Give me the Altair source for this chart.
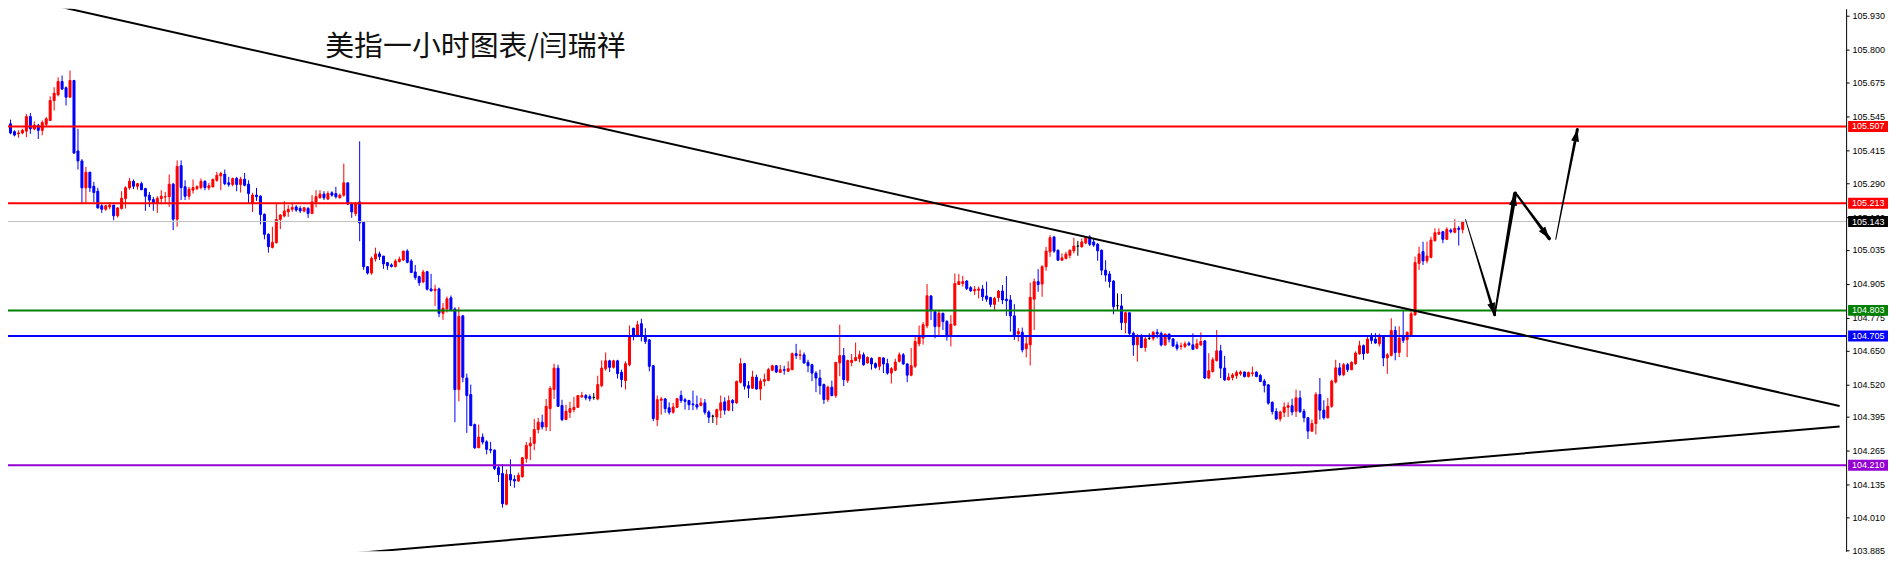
import math
import altair as alt
import pandas as pd

# ---------------- data ----------------
open_ = [105.515,105.517,105.487,105.479,105.482,105.489,105.545,105.497,105.511,105.492,
105.515,105.530,105.606,105.628,105.679,105.655,105.619,105.683,105.413,105.375,
105.272,105.332,105.278,105.259,105.203,105.190,105.199,105.206,105.165,105.193,
105.231,105.272,105.297,105.278,105.288,105.269,105.244,105.227,105.214,105.231,
105.237,105.238,105.286,105.152,105.357,105.276,105.240,105.263,105.269,105.273,
105.297,105.272,105.276,105.301,105.318,105.324,105.291,105.285,105.308,105.285,
105.305,105.286,105.216,105.244,105.240,105.171,105.094,105.044,105.062,105.151,
105.164,105.180,105.190,105.199,105.193,105.183,105.193,105.174,105.218,105.234,
105.248,105.229,105.253,105.250,105.234,105.244,105.291,105.212,105.174,105.218,
105.140,104.970,104.946,105.000,105.019,105.011,104.986,104.977,104.971,104.990,
104.996,105.030,104.992,104.950,104.932,104.912,104.951,104.885,104.879,104.885,
104.792,104.809,104.851,104.808,104.500,104.782,104.544,104.481,104.366,104.277,
104.318,104.300,104.271,104.268,104.201,104.179,104.061,104.175,104.156,104.150,
104.166,104.236,104.284,104.294,104.347,104.375,104.357,104.427,104.500,104.582,
104.439,104.385,104.413,104.423,104.432,104.472,104.477,104.473,104.470,104.464,
104.515,104.580,104.610,104.585,104.610,104.566,104.534,104.595,104.735,104.706,
104.752,104.706,104.690,104.591,104.385,104.459,104.464,104.430,104.413,104.432,
104.477,104.461,104.458,104.445,104.442,104.439,104.449,104.414,104.398,104.395,
104.421,104.453,104.421,104.458,104.449,104.528,104.599,104.515,104.505,104.547,
104.502,104.532,104.535,104.574,104.591,104.566,104.576,104.570,104.576,104.637,
104.631,104.633,104.604,104.595,104.563,104.544,104.519,104.462,104.509,104.477,
104.602,104.630,104.535,104.604,104.611,104.618,104.633,104.602,104.619,104.599,
104.589,104.621,104.599,104.563,104.574,104.608,104.633,104.598,104.555,104.589,
104.675,104.697,104.744,104.858,104.798,104.741,104.792,104.760,104.703,104.747,
104.902,104.906,104.915,104.890,104.878,104.880,104.885,104.858,104.852,104.826,
104.852,104.877,104.846,104.843,104.782,104.713,104.719,104.656,104.671,104.846,
104.913,104.904,104.970,105.027,105.084,105.033,104.995,105.002,105.014,105.031,
105.049,105.046,105.061,105.084,105.065,105.056,105.033,104.957,104.942,104.915,
104.821,104.820,104.756,104.794,104.715,104.671,104.705,104.661,104.696,104.696,
104.719,104.715,104.671,104.712,104.694,104.671,104.665,104.665,104.677,104.671,
104.658,104.671,104.686,104.544,104.569,104.611,104.648,104.582,104.537,104.546,
104.553,104.560,104.567,104.550,104.561,104.567,104.554,104.533,104.518,104.451,
104.416,104.388,104.413,104.432,104.438,104.417,104.468,104.417,104.392,104.341,
104.370,104.481,104.421,104.392,104.436,104.529,104.583,104.557,104.595,104.576,
104.599,104.637,104.668,104.640,104.701,104.693,104.675,104.703,104.621,104.631,
104.726,104.642,104.701,104.691,104.710,104.786,104.983,105.028,104.993,105.006,
105.070,105.095,105.104,105.075,105.110,105.102,105.117,105.113]

high_ = [105.543,105.533,105.492,105.492,105.498,105.555,105.558,105.526,105.517,105.530,
105.543,105.622,105.657,105.695,105.702,105.660,105.721,105.685,105.498,105.382,
105.352,105.332,105.295,105.272,105.209,105.206,105.212,105.206,105.199,105.259,
105.278,105.310,105.304,105.291,105.295,105.272,105.256,105.237,105.240,105.263,
105.256,105.323,105.291,105.377,105.377,105.301,105.276,105.304,105.282,105.308,
105.301,105.291,105.308,105.333,105.333,105.342,105.314,105.311,105.314,105.314,
105.329,105.301,105.253,105.272,105.244,105.174,105.098,105.123,105.215,105.171,
105.221,105.206,105.210,105.206,105.202,105.199,105.199,105.244,105.263,105.263,
105.259,105.259,105.259,105.276,105.250,105.365,105.291,105.215,105.218,105.450,
105.142,104.972,105.009,105.043,105.028,105.011,104.986,104.983,104.999,105.009,
105.030,105.037,104.999,104.977,104.936,104.958,104.954,104.943,104.901,104.890,
104.831,104.856,104.860,104.815,104.815,104.786,104.561,104.519,104.370,104.366,
104.332,104.306,104.300,104.271,104.207,104.214,104.194,104.233,104.172,104.182,
104.242,104.299,104.318,104.388,104.392,104.404,104.464,104.513,104.599,104.595,
104.461,104.442,104.453,104.472,104.477,104.491,104.483,104.481,104.487,104.553,
104.612,104.642,104.614,104.614,104.614,104.576,104.608,104.745,104.735,104.763,
104.771,104.735,104.693,104.594,104.477,104.472,104.468,104.451,104.449,104.468,
104.496,104.468,104.461,104.496,104.477,104.468,104.464,104.421,104.404,104.427,
104.477,104.470,104.477,104.464,104.535,104.620,104.602,104.532,104.572,104.557,
104.542,104.561,104.583,104.595,104.594,104.594,104.591,104.608,104.642,104.675,
104.652,104.642,104.614,104.599,104.570,104.576,104.523,104.515,104.534,104.604,
104.748,104.659,104.614,104.636,104.680,104.649,104.642,104.627,104.623,104.604,
104.623,104.623,104.618,104.586,104.618,104.642,104.640,104.600,104.659,104.703,
104.745,104.758,104.904,104.862,104.805,104.805,104.794,104.766,104.785,104.944,
104.942,104.935,104.919,104.896,104.896,104.894,104.900,104.913,104.855,104.855,
104.881,104.900,104.934,104.862,104.827,104.735,104.737,104.703,104.909,104.925,
104.961,104.976,105.046,105.091,105.088,105.036,105.021,105.027,105.036,105.081,
105.069,105.078,105.087,105.091,105.078,105.061,105.036,104.995,104.953,104.919,
104.868,104.866,104.798,104.794,104.722,104.713,104.713,104.703,104.715,104.724,
104.732,104.722,104.715,104.715,104.696,104.684,104.680,104.684,104.684,104.715,
104.694,104.719,104.690,104.639,104.623,104.728,104.671,104.629,104.563,104.563,
104.573,104.573,104.569,104.569,104.588,104.569,104.560,104.541,104.521,104.455,
104.429,104.419,104.451,104.451,104.465,104.500,104.496,104.426,104.395,104.385,
104.490,104.544,104.459,104.468,104.538,104.614,104.602,104.602,104.602,104.608,
104.646,104.687,104.672,104.706,104.716,104.716,104.714,104.706,104.640,104.773,
104.742,104.742,104.801,104.722,104.803,105.009,105.047,105.066,105.066,105.085,
105.117,105.117,105.107,105.121,105.117,105.152,105.126,105.146]

low_ = [105.511,105.477,105.469,105.464,105.477,105.466,105.479,105.492,105.459,105.473,
105.508,105.527,105.568,105.622,105.647,105.587,105.617,105.403,105.342,105.212,
105.212,105.256,105.218,105.193,105.176,105.184,105.190,105.148,105.158,105.189,
105.193,105.265,105.267,105.265,105.263,105.184,105.199,105.184,105.176,105.209,
105.214,105.199,105.110,105.123,105.225,105.225,105.227,105.250,105.263,105.266,
105.263,105.263,105.273,105.295,105.263,105.282,105.276,105.278,105.259,105.254,
105.278,105.210,105.180,105.222,105.132,105.075,105.024,105.040,105.059,105.114,
105.159,105.161,105.180,105.180,105.176,105.178,105.157,105.171,105.197,105.231,
105.225,105.225,105.238,105.231,105.231,105.238,105.206,105.157,105.164,105.068,
104.958,104.940,104.939,104.990,104.996,104.962,104.958,104.967,104.967,104.986,
104.992,104.983,104.945,104.920,104.897,104.907,104.879,104.875,104.820,104.777,
104.767,104.795,104.799,104.375,104.455,104.528,104.334,104.360,104.273,104.277,
104.290,104.252,104.256,104.192,104.146,104.048,104.057,104.131,104.124,104.146,
104.163,104.220,104.230,104.268,104.332,104.347,104.341,104.341,104.464,104.434,
104.379,104.385,104.391,104.413,104.430,104.468,104.459,104.455,104.461,104.459,
104.509,104.572,104.567,104.580,104.542,104.509,104.500,104.589,104.688,104.703,
104.684,104.674,104.570,104.379,104.360,104.404,104.411,104.404,104.408,104.430,
104.449,104.423,104.421,104.421,104.423,104.436,104.404,104.372,104.372,104.364,
104.391,104.404,104.417,104.417,104.445,104.523,104.500,104.468,104.502,104.500,
104.459,104.513,104.532,104.570,104.563,104.563,104.557,104.567,104.574,104.617,
104.614,104.599,104.566,104.532,104.490,104.481,104.445,104.453,104.474,104.468,
104.551,104.513,104.525,104.589,104.608,104.604,104.591,104.599,104.576,104.580,
104.574,104.563,104.557,104.523,104.570,104.604,104.595,104.528,104.551,104.583,
104.665,104.672,104.735,104.766,104.696,104.709,104.728,104.687,104.665,104.743,
104.900,104.894,104.881,104.874,104.862,104.849,104.839,104.836,104.815,104.805,
104.836,104.827,104.782,104.722,104.690,104.684,104.642,104.623,104.592,104.728,
104.874,104.855,104.955,105.008,105.023,104.993,104.993,104.998,105.002,105.021,
105.012,105.044,105.056,105.049,105.046,104.993,104.938,104.913,104.890,104.788,
104.805,104.728,104.715,104.709,104.629,104.607,104.658,104.645,104.690,104.687,
104.696,104.665,104.667,104.680,104.662,104.649,104.652,104.658,104.667,104.652,
104.654,104.667,104.541,104.540,104.565,104.607,104.544,104.533,104.535,104.535,
104.541,104.553,104.546,104.546,104.550,104.547,104.528,104.489,104.442,104.404,
104.385,104.378,104.394,104.395,104.401,104.395,104.411,104.375,104.311,104.337,
104.328,104.385,104.385,104.389,104.430,104.523,104.551,104.551,104.567,104.574,
104.595,104.633,104.614,104.637,104.675,104.675,104.665,104.589,104.560,104.627,
104.612,104.624,104.678,104.624,104.703,104.782,104.958,104.977,104.983,105.002,
105.066,105.091,105.060,105.072,105.098,105.098,105.051,105.098]

close_ = [105.524,105.482,105.474,105.482,105.492,105.545,105.498,105.512,105.492,105.522,
105.536,105.606,105.634,105.679,105.650,105.619,105.683,105.405,105.375,105.272,
105.332,105.272,105.254,105.195,105.190,105.203,105.206,105.165,105.195,105.232,
105.272,105.297,105.278,105.288,105.265,105.240,105.225,105.214,105.232,105.240,
105.238,105.286,105.152,105.354,105.273,105.240,105.267,105.273,105.276,105.297,
105.273,105.280,105.304,105.320,105.327,105.288,105.285,105.308,105.285,105.305,
105.282,105.250,105.244,105.238,105.170,105.094,105.047,105.063,105.151,105.168,
105.183,105.190,105.197,105.187,105.184,105.196,105.174,105.218,105.238,105.248,
105.234,105.250,105.244,105.238,105.244,105.291,105.210,105.180,105.212,105.138,
104.970,104.946,105.002,105.019,105.009,104.981,104.974,104.971,104.992,104.999,
105.030,104.987,104.948,104.929,104.909,104.950,104.884,104.878,104.884,104.792,
104.811,104.847,104.805,104.500,104.780,104.547,104.477,104.362,104.277,104.318,
104.299,104.271,104.268,104.198,104.174,104.063,104.175,104.154,104.150,104.172,
104.239,104.286,104.294,104.347,104.375,104.357,104.436,104.504,104.582,104.436,
104.385,104.417,104.427,104.432,104.477,104.477,104.468,104.465,104.470,104.519,
104.582,104.610,104.585,104.610,104.561,104.538,104.599,104.706,104.706,104.748,
104.706,104.684,104.589,104.389,104.461,104.464,104.427,104.413,104.433,104.465,
104.458,104.455,104.442,104.442,104.433,104.449,104.413,104.394,104.398,104.423,
104.449,104.421,104.458,104.449,104.531,104.599,104.513,104.505,104.548,104.502,
104.532,104.538,104.576,104.591,104.567,104.576,104.574,104.580,104.637,104.630,
104.633,104.602,104.591,104.563,104.544,104.515,104.462,104.509,104.477,104.604,
104.630,104.538,104.611,104.612,104.623,104.633,104.595,104.623,104.598,104.585,
104.623,104.598,104.563,104.580,104.605,104.633,104.598,104.555,104.591,104.684,
104.701,104.748,104.859,104.802,104.741,104.792,104.760,104.703,104.750,104.906,
104.913,104.913,104.887,104.878,104.883,104.885,104.855,104.846,104.826,104.849,
104.877,104.843,104.840,104.782,104.709,104.722,104.652,104.675,104.853,104.913,
104.902,104.970,105.030,105.081,105.030,104.995,105.004,105.018,105.033,105.049,
105.049,105.065,105.082,105.056,105.053,105.031,104.957,104.938,104.913,104.817,
104.821,104.756,104.794,104.715,104.671,104.700,104.661,104.694,104.696,104.719,
104.713,104.671,104.712,104.693,104.667,104.658,104.667,104.675,104.671,104.654,
104.675,104.684,104.544,104.572,104.614,104.648,104.582,104.537,104.547,104.556,
104.565,104.567,104.550,104.565,104.564,104.550,104.531,104.516,104.448,104.416,
104.387,104.414,104.433,104.438,104.414,104.468,104.415,104.392,104.341,104.370,
104.481,104.421,104.392,104.436,104.532,104.583,104.557,104.595,104.576,104.604,
104.640,104.668,104.637,104.693,104.688,104.678,104.703,104.621,104.633,104.726,
104.642,104.697,104.688,104.719,104.790,104.986,105.019,104.992,105.011,105.072,
105.100,105.102,105.075,105.113,105.104,105.117,105.113,105.142]

level_price = [105.507, 105.213, 105.143, 104.803, 104.705, 104.210]
level_color = ["#ff0000", "#ff0000", "#c0c0c0", "#008000", "#0000ff", "#9400d3"]
level_width = [2, 2, 1, 2, 2, 2]
label_bg = ["#ff0000", "#ff0000", "#000000", "#008000", "#0000ff", "#9400d3"]

tick_values = [105.930, 105.800, 105.675, 105.545, 105.415, 105.290, 105.160, 105.035,
               104.905, 104.775, 104.650, 104.520, 104.395, 104.265, 104.135, 104.010, 103.885]

trend_id = ["down", "down", "up", "up"]
trend_i = [0, 462, 0, 462]
trend_p = [106.011, 104.437, 103.760, 104.359]

arrow_seg = [1, 1, 2, 2, 3, 3, 4, 4]
arrow_i = [367.7, 375.05, 375.05, 380.2, 380.45, 388.8, 390.45, 395.9]
arrow_p = [105.151, 104.786, 104.786, 105.250, 105.250, 105.078, 105.075, 105.495]
arrow_w = [0.8, 3.0, 1.8, 4.0, 2.0, 3.5, 1.0, 3.0]

title_text = "美指一小时图表/闫瑞祥"

# ---------------- layout ----------------
W, H = 1843, 544
X_DOM = [1.625, 462.375]
Y_DOM = [103.881, 105.9575]
PX_I = W / (X_DOM[1] - X_DOM[0])
PX_P = H / (Y_DOM[1] - Y_DOM[0])

n = len(open_)
df = pd.DataFrame({"i": list(range(n)), "open": open_, "high": high_,
                   "low": low_, "close": close_})
df["dir"] = ["up" if c > o else ("down" if c < o else "flat")
             for o, c in zip(open_, close_)]

lv = pd.DataFrame({"price": level_price, "col": level_color, "w": level_width,
                   "bg": label_bg, "txt": [f"{p:.3f}" for p in level_price]})
tr = pd.DataFrame({"id": trend_id, "i": trend_i, "p": trend_p})
ar = pd.DataFrame({"seg": arrow_seg, "i": arrow_i, "p": arrow_p, "w": arrow_w,
                   "ord": list(range(len(arrow_seg)))})
heads = []
for s in sorted(set(arrow_seg)):
    pts = ar[ar.seg == s].sort_values("ord")
    (i0, p0), (i1, p1) = pts[["i", "p"]].values[0], pts[["i", "p"]].values[-1]
    dx = (i1 - i0) * PX_I
    dy = -(p1 - p0) * PX_P
    ang = math.degrees(math.atan2(dx, -dy)) % 360
    heads.append({"i": i1, "p": p1, "ang": ang})
hd = pd.DataFrame(heads)

xs = alt.Scale(domain=X_DOM, nice=False, zero=False)
ys = alt.Scale(domain=Y_DOM, nice=False, zero=False)
cscale = alt.Scale(domain=["up", "down", "flat"], range=["#ff0000", "#0000ff", "#000000"])

yaxis = alt.Axis(orient="right", values=tick_values, format=".3f",
                 labelFont="Liberation Sans", labelFontSize=9, labelColor="#000000",
                 tickColor="#000000", tickSize=3, tickWidth=1,
                 domainColor="#000000", domainWidth=1, labelPadding=3,
                 grid=False, labelOverlap=False, labelFlush=False, labelBound=False)


def Y(field):
    return alt.Y(field, scale=ys, axis=yaxis, title=None)


X = alt.X("i:Q", scale=xs, axis=None, title=None)

wicks = alt.Chart(df).mark_rule(strokeWidth=1, clip=True).encode(
    x=X,
    y=Y("low:Q"),
    y2="high:Q",
    color=alt.Color("dir:N", scale=cscale, legend=None),
)
bodies = alt.Chart(df).mark_bar(size=2, strokeWidth=1, clip=True, opacity=1).encode(
    x=X,
    y=Y("open:Q"),
    y2="close:Q",
    fill=alt.Fill("dir:N", scale=cscale, legend=None),
    stroke=alt.Stroke("dir:N", scale=cscale, legend=None),
)
levels = alt.Chart(lv).mark_rule(clip=True).encode(
    y=Y("price:Q"),
    color=alt.Color("col:N", scale=None),
    strokeWidth=alt.StrokeWidth("w:Q", scale=None),
)
trends = alt.Chart(tr).mark_line(color="#000000", strokeWidth=2, clip=True).encode(
    x=X,
    y=Y("p:Q"),
    detail="id:N",
)
arrows = alt.Chart(ar).mark_trail(color="#000000").encode(
    x=X,
    y=Y("p:Q"),
    size=alt.Size("w:Q", scale=None),
    detail="seg:N",
    order=alt.Order("ord:Q"),
)
arrowheads = alt.Chart(hd).mark_point(
    shape="M0,0L0.5,1.5L-0.5,1.5Z", size=256, filled=True, opacity=1,
    color="#000000", strokeWidth=0,
).encode(
    x=X,
    y=Y("p:Q"),
    angle=alt.Angle("ang:Q", scale=None),
)
boxes = alt.Chart(lv).mark_point(
    shape="M0,-1H7.27V1H0Z", size=121, filled=True, opacity=1, strokeWidth=0,
).encode(
    x=alt.value(W + 2),
    y=Y("price:Q"),
    color=alt.Color("bg:N", scale=None),
)
box_text = alt.Chart(lv).mark_text(
    align="left", baseline="middle", font="Liberation Sans", fontSize=9, color="#ffffff",
).encode(
    x=alt.value(W + 6),
    y=Y("price:Q"),
    text="txt:N",
)
title = alt.Chart(pd.DataFrame({"t": [title_text]})).mark_text(
    align="left", baseline="middle", font="Noto Sans CJK SC", fontSize=29, color="#111111",
).encode(x=alt.value(318), y=alt.value(38), text="t:N")

chart = alt.layer(
    wicks, bodies, levels, trends, arrows, arrowheads, boxes, box_text, title
).properties(
    width=W, height=H,
    padding={"left": 0, "top": 0, "right": 42, "bottom": 4},
    autosize=alt.AutoSizeParams(type="none"),
    background="#ffffff",
).configure_view(stroke=None)

chart.save("out.html", embed_options={"renderer": "svg", "actions": False})
